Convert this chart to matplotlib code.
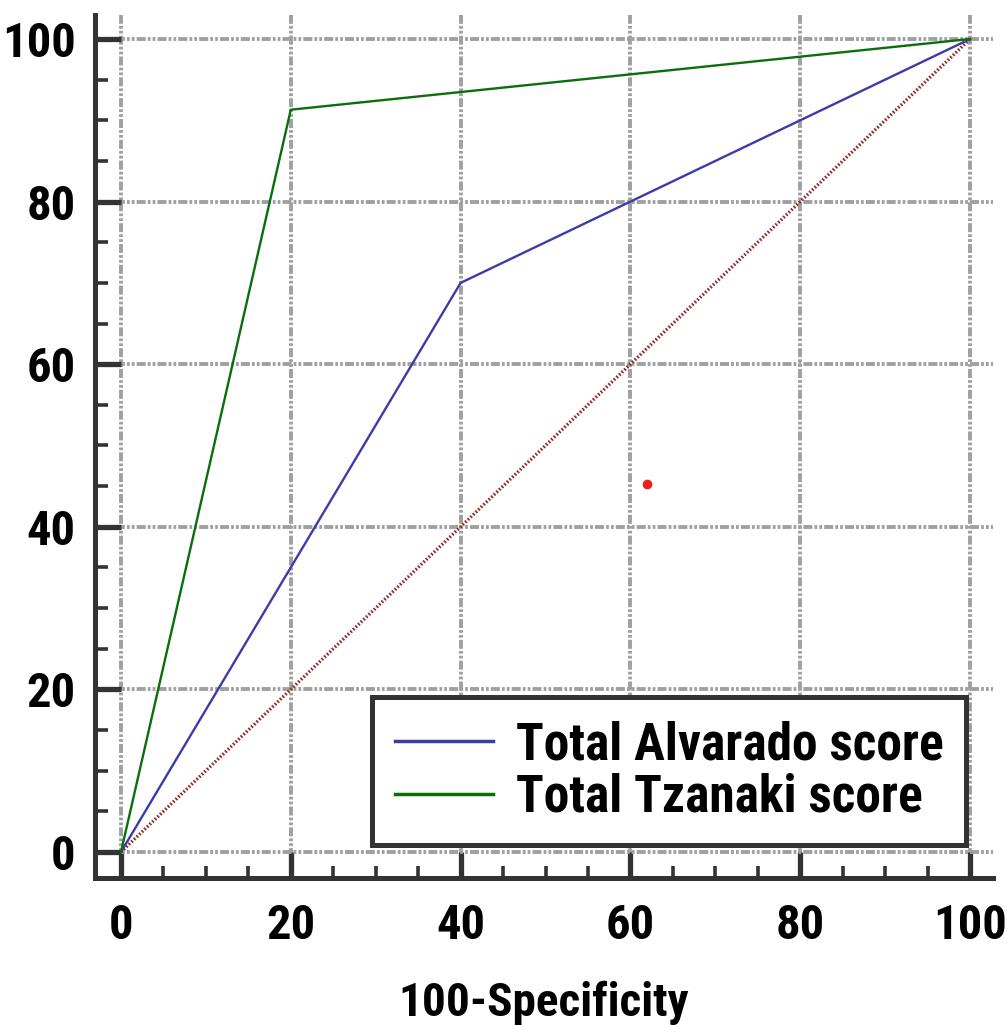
import matplotlib
matplotlib.use("Agg")
import matplotlib.pyplot as plt
from matplotlib import font_manager
from matplotlib.ticker import MultipleLocator

plt.rcParams['lines.scale_dashes'] = False
names = {f.name for f in font_manager.fontManager.ttflist}
fam = ['Liberation Sans Narrow', 'Roboto Condensed', 'Liberation Sans', 'DejaVu Sans']
fam = [f for f in fam if f in names] or ['DejaVu Sans']
plt.rcParams['font.family'] = fam
narrow = fam[0] in ('Liberation Sans Narrow', 'Roboto Condensed')
tick_fs = 35 if narrow else 31
leg_fs = 37 if narrow else 31.5
lab_fs = 34 if narrow else 30

# data
alvarado_x = [0, 40, 100]
alvarado_y = [0, 70, 100]
tzanaki_x = [0, 20, 100]
tzanaki_y = [0, 91.3, 100]
diag_x = [0, 100]
diag_y = [0, 100]
point_x = [62]
point_y = [45.3]
ticks = [0, 20, 40, 60, 80, 100]

fig = plt.figure(figsize=(10.07, 10.25), dpi=100)
ax = fig.add_axes([95/1007, 1-878/1025, (993-95)/1007, (878-15)/1025])

ax.set_xlim(-3.06, 102.7)
ax.set_ylim(-3.2, 102.95)

ax.plot(diag_x, diag_y, color='#902828', lw=2.4, linestyle=(0, (1.2, 1.4)), zorder=3)
ax.plot(alvarado_x, alvarado_y, color='#3c3ca8', lw=1.7, label='Total Alvarado score', zorder=4)
ax.plot(tzanaki_x, tzanaki_y, color='#0a6e0a', lw=1.7, label='Total Tzanaki score', zorder=4)
ax.plot(point_x, point_y, 'o', color='#e82020', ms=7, mec='none', zorder=5)

ax.set_xticks(ticks)
ax.set_yticks(ticks)
ax.xaxis.set_minor_locator(MultipleLocator(5))
ax.yaxis.set_minor_locator(MultipleLocator(5))

ax.grid(True, which='major', color='#a0a0a0', lw=2.8, linestyle=(0, (6.5, 1.5, 2, 1.5, 2, 1.5)))
ax.set_axisbelow(True)

for s in ['top', 'right']:
    ax.spines[s].set_visible(False)
for s in ['left', 'bottom']:
    ax.spines[s].set_color('#333333')
    ax.spines[s].set_linewidth(3.6)

ax.tick_params(which='major', direction='in', length=19, width=3.8, color='#333333')
ax.tick_params(which='minor', direction='in', length=9, width=2.6, color='#333333')
ax.tick_params(axis='x', which='major', pad=18)
ax.tick_params(axis='y', which='major', pad=14)
for lab in ax.get_xticklabels() + ax.get_yticklabels():
    lab.set_fontsize(tick_fs)
    lab.set_fontweight('bold')

ax.set_xlabel('100-Specificity', fontsize=lab_fs, fontweight='bold', labelpad=23)

leg = ax.legend(loc='lower right', bbox_to_anchor=(0.970, 0.038),
                prop={'weight': 'bold', 'size': leg_fs}, frameon=True, fancybox=False,
                handlelength=1.9, handletextpad=0.45, borderpad=0.44, labelspacing=0.05,
                borderaxespad=0, framealpha=1)
leg.get_frame().set_edgecolor('#333333')
leg.get_frame().set_linewidth(3.6)
for l in leg.get_lines():
    l.set_linewidth(2.5)

fig.savefig('out.png', dpi=100)
